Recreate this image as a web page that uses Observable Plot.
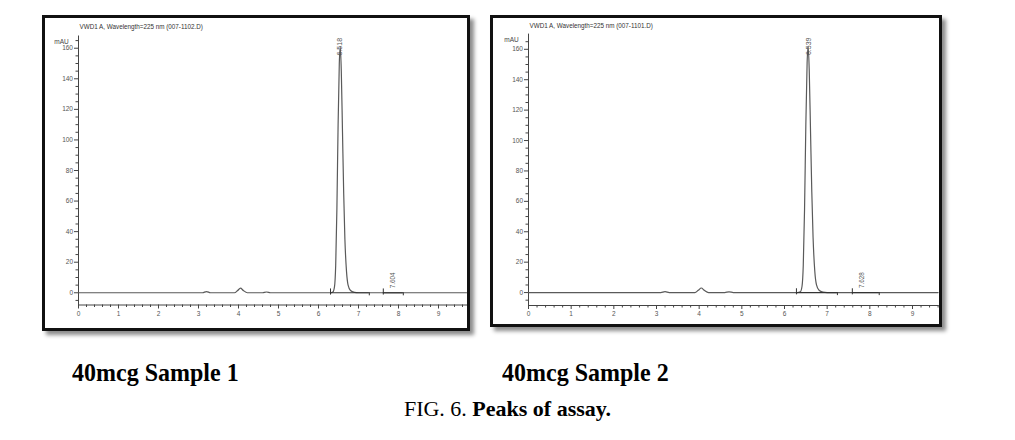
<!DOCTYPE html>
<html>
<head>
<meta charset="utf-8">
<script src="https://cdn.jsdelivr.net/npm/d3@7"></script>
<script src="https://cdn.jsdelivr.net/npm/@observablehq/plot@0.6"></script>
<style>
  html, body { margin: 0; padding: 0; background: #fff; }
  #page { position: relative; width: 1015px; height: 440px; overflow: hidden; background: #fff; }
  .frame { position: absolute; border: 3px solid #111; box-shadow: 4px 4px 4px rgba(0,0,0,0.45); background: #fff; }
  .frame svg { position: absolute; left: 0; top: 0; }
  .cap { position: absolute; font-family: "Liberation Serif", "Times New Roman", serif; font-weight: bold; font-size: 24px; color: #000; white-space: nowrap; transform: scaleY(1.08); transform-origin: left center; }
  .fig { position: absolute; width: 1015px; left: 0; text-align: center; font-family: "Liberation Serif", "Times New Roman", serif; font-size: 22px; color: #000; }
</style>
</head>
<body>
<div id="page">
  <div class="frame" id="f1" style="left:42px; top:15px; width:422px; height:310px;"></div>
  <div class="frame" id="f2" style="left:490px; top:15px; width:446px; height:306px;"></div>
  <div class="cap" style="left:72px; top:359px;">40mcg Sample 1</div>
  <div class="cap" style="left:502px; top:359px;">40mcg Sample 2</div>
  <div class="fig" style="top:396px;">FIG. 6. <b>Peaks of assay.</b></div>
</div>
<script>
// ---- Data ----
const titles = ["VWD1 A, Wavelength=225 nm (007-1102.D)", "VWD1 A, Wavelength=225 nm (007-1101.D)"];
const yUnit = "mAU";
const xMajorTicks = [0, 1, 2, 3, 4, 5, 6, 7, 8, 9];
const xMinorTicks = [0.2,0.4,0.6,0.8,1.2,1.4,1.6,1.8,2.2,2.4,2.6,2.8,3.2,3.4,3.6,3.8,4.2,4.4,4.6,4.8,5.2,5.4,5.6,5.8,6.2,6.4,6.6,6.8,7.2,7.4,7.6,7.8,8.2,8.4,8.6,8.8,9.2,9.4,9.6];
const yMajorTicks = [0, 20, 40, 60, 80, 100, 120, 140, 160];
const yMinorTicks = [-5, 5, 10, 15, 25, 30, 35, 45, 50, 55, 65, 70, 75, 85, 90, 95, 105, 110, 115, 125, 130, 135, 145, 150, 155, 165];

// Sample 1 trace (min, mAU)
const s1Time = [0, 2.5, 3.1, 3.2, 3.3, 3.9, 3.98, 4.05, 4.12, 4.22, 4.6, 4.7, 4.8, 6.3, 6.36, 6.4, 6.43, 6.46, 6.49, 6.52, 6.545, 6.57, 6.6, 6.63, 6.66, 6.7, 6.74, 6.8, 6.9, 7.0, 9.7];
const s1Mau  = [0, 0,   0,   0.8, 0,   0,   1.5,  3,    1.5,  0,    0,   0.5, 0,   0,   0.5,  4,    18,   55,   110,  150,  161,   145,  105, 65,   35,   14,  5,    1.5, 0.3, 0,   0];
// Sample 2 trace (min, mAU)
const s2Time = [0, 3.1, 3.2, 3.3, 3.9, 3.98, 4.05, 4.12, 4.22, 4.6, 4.7, 4.8, 6.3, 6.37, 6.41, 6.44, 6.47, 6.5, 6.53, 6.555, 6.58, 6.61, 6.64, 6.67, 6.71, 6.75, 6.81, 6.9, 7.0, 9.6];
const s2Mau  = [0, 0,   0.6, 0,   0,   1.5,  3,    1.5,  0,    0,   0.5, 0,   0,   0.5,  4,    18,   55,   110,  151,  162,   146,  106, 66,   36,   14,   5,    1.5,  0.3, 0,   0];

// Integration marks (start, end of each baseline)
const s1BaseStart = [6.3, 7.62];
const s1BaseEnd   = [7.27, 8.12];
const s2BaseStart = [6.28, 7.59];
const s2BaseEnd   = [7.24, 8.22];

// Peak labels (retention time labels)
const s1PeakTime  = [6.518, 7.604];
const s1PeakMau   = [161, 1];
const s1PeakLabel = ["6.518", "7.604"];
const s2PeakTime  = [6.539, 7.628];
const s2PeakMau   = [162, 1];
const s2PeakLabel = ["6.539", "7.628"];

function panel(cfg) {
  const trace = cfg.time.map((t, i) => ({t, v: cfg.mau[i]}));
  const bases = cfg.bStart.map((s, i) => ({s, e: cfg.bEnd[i]}));
  const peaks = cfg.pTime.map((t, i) => ({t, v: cfg.pMau[i], label: cfg.pLabel[i], main: i === 0}));
  return Plot.plot({
    width: cfg.width,
    height: cfg.height,
    marginLeft: cfg.ml,
    marginRight: cfg.mr,
    marginTop: cfg.mt,
    marginBottom: cfg.mb,
    style: {fontFamily: "Liberation Sans, Arial, sans-serif", fontSize: "6.5px", color: "#444", background: "transparent", overflow: "visible"},
    x: {domain: cfg.xDomain, axis: null},
    y: {domain: cfg.yDomain, axis: null},
    marks: [
      Plot.frame({anchor: "left", stroke: "#444"}),
      Plot.frame({anchor: "bottom", stroke: "#444"}),
      Plot.axisX({ticks: xMinorTicks, tickSize: 2.5, text: null, label: null, stroke: "#444"}),
      Plot.axisX({ticks: xMajorTicks, tickSize: 4, tickPadding: 2, label: null, tickFormat: d3.format("d"), stroke: "#444", fill: "#555"}),
      Plot.axisY({ticks: yMinorTicks, tickSize: 2.5, text: null, label: null, stroke: "#444"}),
      Plot.axisY({ticks: yMajorTicks, tickSize: 4, tickPadding: 1.5, label: null, tickFormat: d3.format("d"), stroke: "#444", fill: "#555"}),
      Plot.text([yUnit], {frameAnchor: "top-left", dx: -17, dy: 3, textAnchor: "middle", fill: "#444"}),
      Plot.text([cfg.title], {frameAnchor: "top-left", dx: 1, dy: -11, textAnchor: "start", fill: "#333", fontSize: 6.3}),
      Plot.line(trace, {x: "t", y: "v", stroke: "#5a5a5a", strokeWidth: 1.2, curve: "monotone-x"}),
      Plot.ruleY(bases, {x1: "s", x2: "e", y: 0, stroke: "#333", strokeWidth: 1.2}),
      Plot.ruleX(bases, {x: "s", y1: -1.5, y2: 2.5, stroke: "#333", strokeWidth: 1}),
      Plot.ruleX(bases, {x: "e", y1: -2, y2: 0, stroke: "#333", strokeWidth: 1}),
      Plot.text(peaks.filter(d => d.main), {x: "t", y: "v", text: "label", rotate: -90, textAnchor: "middle", fill: "#555", fontSize: 7, dx: 1}),
      Plot.text(peaks.filter(d => !d.main), {x: "t", y: "v", text: "label", rotate: -90, textAnchor: "start", fill: "#555", fontSize: 6.3, dx: cfg.smallDx, dy: -3})
    ]
  });
}

const p1 = panel({
  title: titles[0], time: s1Time, mau: s1Mau, bStart: s1BaseStart, bEnd: s1BaseEnd,
  pTime: s1PeakTime, pMau: s1PeakMau, pLabel: s1PeakLabel,
  width: 422, height: 310, ml: 33, mr: 1, mt: 17.5, mb: 23.5,
  xDomain: [0, 9.7], yDomain: [-8, 168], smallDx: 10
});
const p2 = panel({
  title: titles[1], time: s2Time, mau: s2Mau, bStart: s2BaseStart, bEnd: s2BaseEnd,
  pTime: s2PeakTime, pMau: s2PeakMau, pLabel: s2PeakLabel,
  width: 446, height: 306, ml: 35, mr: 1.4, mt: 15.6, mb: 19,
  xDomain: [0, 9.6], yDomain: [-8.5, 170], smallDx: 8
});
document.getElementById("f1").appendChild(p1);
document.getElementById("f2").appendChild(p2);
</script>
</body>
</html>
